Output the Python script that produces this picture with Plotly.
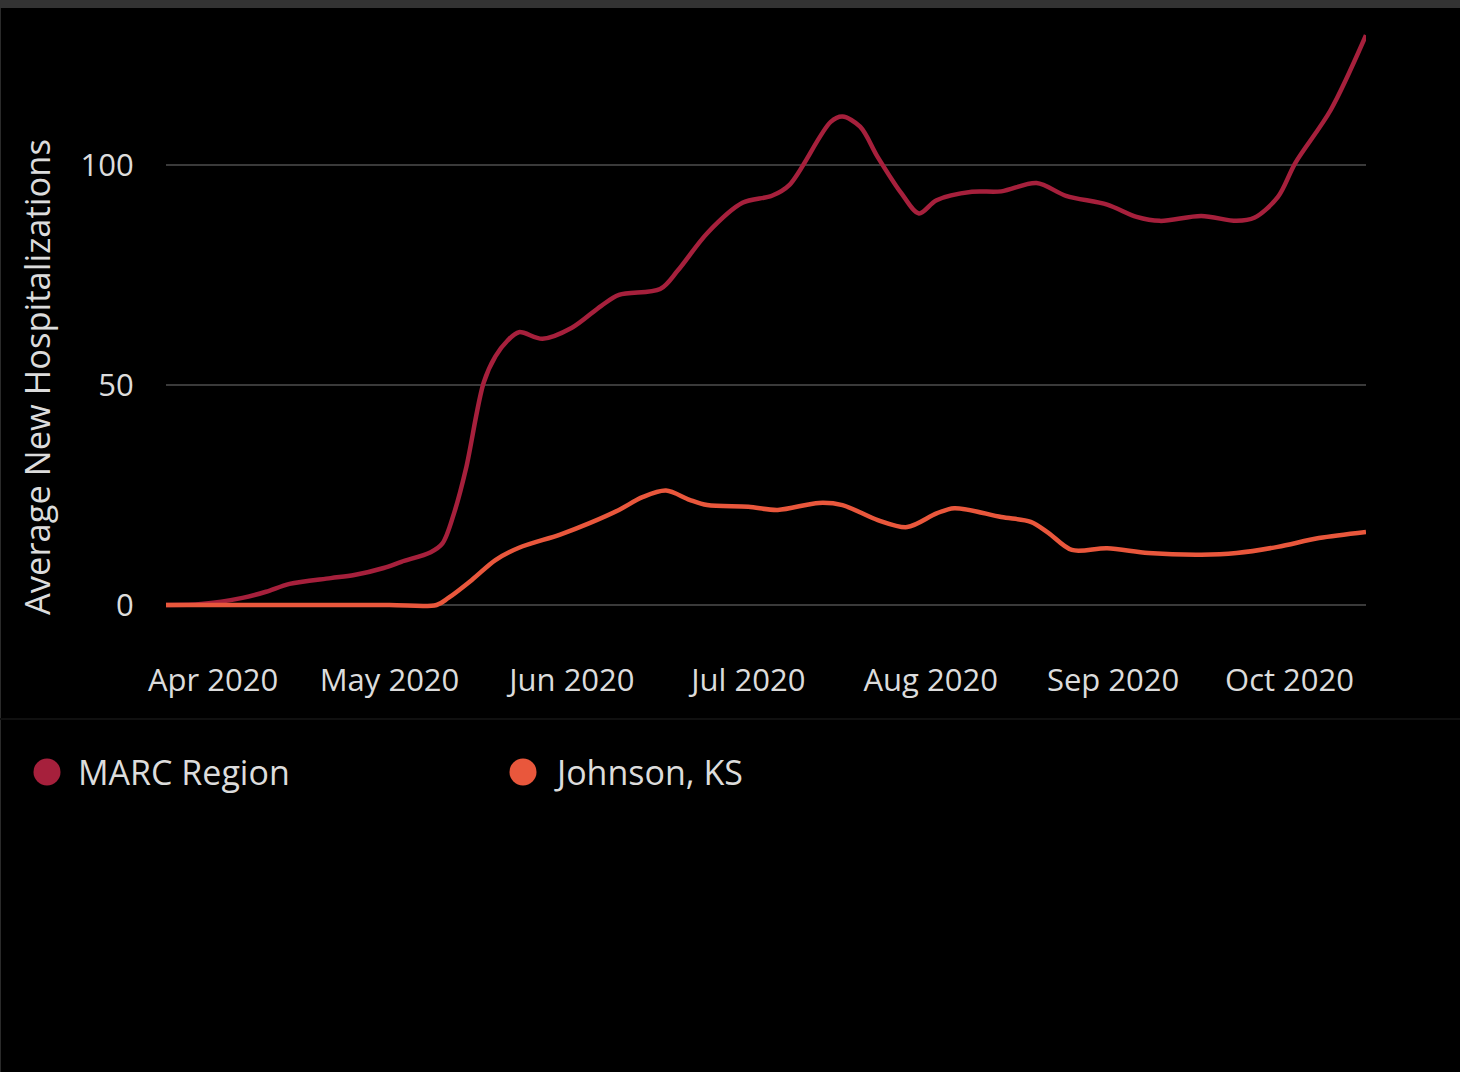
import plotly.graph_objects as go

# ---- data ----
marc_dates = ["2020-03-24", "2020-03-30", "2020-04-06", "2020-04-10", "2020-04-14", "2020-04-21",
              "2020-04-25", "2020-04-30", "2020-05-03", "2020-05-08", "2020-05-10", "2020-05-12",
              "2020-05-14", "2020-05-17", "2020-05-19", "2020-05-21", "2020-05-23",
              "2020-05-27", "2020-06-01", "2020-06-06", "2020-06-09", "2020-06-16", "2020-06-19",
              "2020-06-24", "2020-06-30", "2020-07-05", "2020-07-08", "2020-07-15",
              "2020-07-17", "2020-07-20", "2020-07-23", "2020-07-27", "2020-07-30", "2020-08-02",
              "2020-08-08", "2020-08-13", "2020-08-19", "2020-08-24", "2020-08-31", "2020-09-05",
              "2020-09-09", "2020-09-16", "2020-09-22", "2020-09-25", "2020-09-29", "2020-10-02",
              "2020-10-08", "2020-10-14"]
marc_values = [0, 0.2, 1.6, 3.0, 4.8, 6.1,
               6.8, 8.4, 9.8, 12.0, 14.0, 21.0,
               31.0, 50.5, 56.5, 60.0, 62.0,
               60.5, 63.0, 68.0, 70.5, 71.8, 76.0,
               84.5, 91.4, 93.0, 95.5, 109.8,
               111.0, 108.7, 101.8, 93.6, 89.0, 92.0,
               93.9, 94.0, 95.9, 93.0, 91.0, 88.2,
               87.3, 88.4, 87.3, 88.0, 92.7, 100.5,
               112.5, 129.5]

johnson_dates = ["2020-03-24", "2020-04-15", "2020-05-01", "2020-05-09", "2020-05-11", "2020-05-15",
                 "2020-05-19", "2020-05-23", "2020-05-30", "2020-06-04", "2020-06-09", "2020-06-13",
                 "2020-06-17", "2020-06-21", "2020-06-24", "2020-07-01", "2020-07-06", "2020-07-13",
                 "2020-07-17", "2020-07-23", "2020-07-28", "2020-08-02", "2020-08-05", "2020-08-13",
                 "2020-08-18", "2020-08-21", "2020-08-25", "2020-08-31", "2020-09-07", "2020-09-16",
                 "2020-09-22", "2020-09-29", "2020-10-06", "2020-10-14"]
johnson_values = [0, 0, 0, 0, 1.6, 5.7,
                  10.2, 13.0, 16.0, 18.6, 21.6, 24.5,
                  26.0, 23.9, 22.7, 22.3, 21.6, 23.2,
                  22.7, 19.3, 17.7, 20.8, 22.0, 20.0,
                  18.9, 16.4, 12.5, 12.9, 11.8, 11.4,
                  11.8, 13.2, 15.2, 16.6]

series_names = ["MARC Region", "Johnson, KS"]
series_colors = ["#A6203C", "#E9573C"]

x_tick_vals = ["2020-04-01", "2020-05-01", "2020-06-01", "2020-07-01",
               "2020-08-01", "2020-09-01", "2020-10-01"]
x_tick_text = ["Apr 2020", "May 2020", "Jun 2020", "Jul 2020",
               "Aug 2020", "Sep 2020", "Oct 2020"]
y_tick_vals = [0, 50, 100]
y_title = "Average New Hospitalizations"

# ---- layout geometry (pixels) ----
W, H = 1460, 1072
L, R = 166, 1366
PT = 33
PB = 612


def pxx(p):
    return (p - L) / (R - L)


def pxy(p):
    return (PB - p) / (PB - PT)


FONT = "Open Sans"
TXT = "#dcdcdc"
GRID = "#3a3a3a"

fig = go.Figure()
fig.add_trace(go.Scatter(x=marc_dates, y=marc_values, mode="lines", name=series_names[0],
                         line=dict(color=series_colors[0], width=4.5, shape="spline", smoothing=0.9),
                         showlegend=False, hoverinfo="skip"))
fig.add_trace(go.Scatter(x=johnson_dates, y=johnson_values, mode="lines", name=series_names[1],
                         line=dict(color=series_colors[1], width=4.5, shape="spline", smoothing=0.9),
                         showlegend=False, hoverinfo="skip"))

shapes = [
    # top grey band
    dict(type="rect", xref="paper", yref="paper", x0=pxx(0), x1=pxx(W), y0=pxy(0), y1=pxy(8),
         fillcolor="#333333", line=dict(width=0), layer="above"),
    # left edge line
    dict(type="line", xref="paper", yref="paper", x0=pxx(0.5), x1=pxx(0.5), y0=pxy(8), y1=pxy(H),
         line=dict(color="#2a2a2a", width=1)),
    # faint separator under axis
    dict(type="line", xref="paper", yref="paper", x0=pxx(0), x1=pxx(W), y0=pxy(719), y1=pxy(719),
         line=dict(color="#101010", width=2)),
]

annotations = [
    dict(text=y_title, xref="paper", yref="paper", x=pxx(36), y=pxy(377), textangle=-90,
         showarrow=False, xanchor="center", yanchor="middle",
         font=dict(family=FONT, size=34.5, color=TXT)),
]

legend_x = [47, 523]
for i, name in enumerate(series_names):
    cx, cy, r = legend_x[i], 772, 13.5
    shapes.append(dict(type="circle", xref="paper", yref="paper",
                       x0=pxx(cx - r), x1=pxx(cx + r), y0=pxy(cy + r), y1=pxy(cy - r),
                       fillcolor=series_colors[i], line=dict(width=0)))
    annotations.append(dict(text=name, xref="paper", yref="paper", x=pxx(cx + 29), y=pxy(cy),
                            showarrow=False, xanchor="left", yanchor="middle",
                            font=dict(family=FONT, size=34, color=TXT)))

fig.update_layout(
    width=W, height=H,
    margin=dict(l=L, r=W - R, t=PT, b=H - PB, pad=0),
    paper_bgcolor="#000000", plot_bgcolor="#000000",
    showlegend=False,
    font=dict(family=FONT, color=TXT),
    xaxis=dict(type="date", range=["2020-03-24", "2020-10-14"],
               tickvals=x_tick_vals, ticktext=x_tick_text,
               showgrid=False, zeroline=False, showline=False,
               ticks="outside", ticklen=41, tickcolor="rgba(0,0,0,0)",
               tickfont=dict(family=FONT, size=31, color=TXT)),
    yaxis=dict(range=[-1.6, 130], tickvals=y_tick_vals,
               showgrid=True, gridcolor=GRID, gridwidth=2,
               zeroline=True, zerolinecolor=GRID, zerolinewidth=2, showline=False,
               ticks="outside", ticklen=25, tickcolor="rgba(0,0,0,0)",
               tickfont=dict(family=FONT, size=31, color=TXT)),
    shapes=shapes,
    annotations=annotations,
)

fig.write_html("out.html", config={"displayModeBar": False},
               post_script="document.body.style.margin='0';document.body.style.overflow='hidden';")
